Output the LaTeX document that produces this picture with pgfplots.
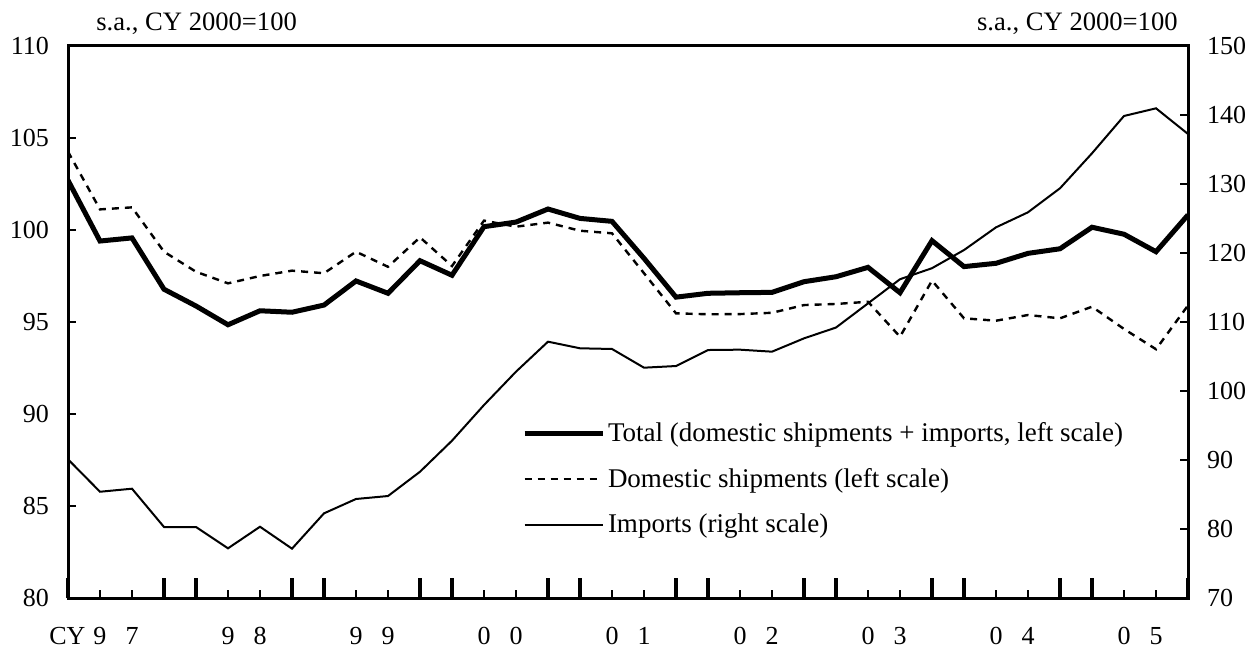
\documentclass[border=0pt]{standalone}
\usepackage{fontspec}
\setmainfont{Liberation Serif}
\usepackage{pgfplots}
\usepackage{pgfplotstable}
\usetikzlibrary{calc}
\pgfplotsset{compat=1.18}

\pgfplotstableread{
i total dom imp
0 102.70 104.26 90.1
1 99.40 101.12 85.4
2 99.57 101.23 85.84
3 96.78 98.82 80.29
4 95.87 97.73 80.29
5 94.85 97.10 77.2
6 95.61 97.50 80.33
7 95.53 97.79 77.15
8 95.92 97.65 82.27
9 97.23 98.82 84.35
10 96.56 98.00 84.78
11 98.33 99.60 88.3
12 97.54 98.04 92.8
13 100.18 100.51 97.97
14 100.43 100.18 102.8
15 101.14 100.40 107.15
16 100.63 99.96 106.19
17 100.47 99.82 106.09
18 98.46 97.65 103.38
19 96.35 95.47 103.62
20 96.56 95.42 105.94
21 96.59 95.43 105.99
22 96.61 95.50 105.7
23 97.19 95.92 107.63
24 97.46 95.98 109.2
25 97.97 96.10 112.7
26 96.59 94.20 116.2
27 99.42 97.25 117.8
28 98.01 95.20 120.43
29 98.19 95.07 123.72
30 98.73 95.38 125.9
31 98.98 95.20 129.38
32 100.15 95.83 134.45
33 99.77 94.62 139.86
34 98.82 93.52 140.97
35 100.82 95.90 137.25
}\datatable

\begin{document}
\begin{tikzpicture}
\pgfplotsset{
  every axis/.append style={
    scale only axis, width=560pt, height=276pt,
    at={(0,0)}, anchor=south west,
    xmin=0, xmax=35,
    axis line style={line width=1.5pt},
    tick align=inside,
    major tick length=4pt,
    tick style={line width=1pt, color=black},
    tick label style={font=\fontsize{13}{15}\selectfont},
    /pgf/number format/assume math mode=true,
  }
}
\begin{axis}[
  ymin=70, ymax=150,
  axis x line=none,
  axis y line*=right,
  ytick={70,80,...,150},
  yticklabel style={xshift=6pt, anchor=west},
]
\addplot[black, line width=1pt] table[x=i, y=imp] {\datatable};
\end{axis}
\begin{axis}[
  name=main,
  ymin=80, ymax=110,
  ytick={80,85,...,110},
  ytick pos=left,
  xtick pos=left,
  yticklabel style={xshift=-6pt, anchor=east},
  xtick={0,...,35},
  xticklabels={,{\makebox[0pt][r]{CY\hspace{4pt}}9},7,,,9,8,,,9,9,,,0,0,,,0,1,,,0,2,,,0,3,,,0,4,,,0,5,},
  xticklabel style={yshift=-11pt},
  extra x ticks={0,3,4,7,8,11,12,15,16,19,20,23,24,27,28,31,32,35},
  extra x tick labels={},
  extra x tick style={major tick length=10pt, tick style={line width=2pt}},
  legend style={draw=none, fill=none, at={(0.405,0.325)}, anchor=north west,
    font=\fontsize{13.5}{15}\selectfont, row sep=9pt, inner sep=0pt,
    nodes={inner sep=1.5pt}},
  legend cell align=left,
  legend image code/.code={\draw[#1] (0pt,0pt) -- (39pt,0pt);},
]
\addplot[black, line width=2.5pt] table[x=i, y=total] {\datatable};
\addlegendentry{Total (domestic shipments + imports, left scale)}
\addplot[black, line width=1.2pt, dash pattern=on 3.5pt off 3pt] table[x=i, y=dom] {\datatable};
\addlegendentry{Domestic shipments (left scale)}
\addlegendimage{black, line width=1pt}
\addlegendentry{Imports (right scale)}
\end{axis}
\node[anchor=base west, inner sep=0pt, font=\fontsize{13.3}{15}\selectfont] at ($(main.north west)+(14pt,7.5pt)$) {s.a., CY 2000=100};
\node[anchor=base east, inner sep=0pt, font=\fontsize{13.3}{15}\selectfont] at ($(main.north east)+(-5pt,7.5pt)$) {s.a., CY 2000=100};
\pgfresetboundingbox
\path (-34pt,-25pt) rectangle (592pt,299pt);
\end{tikzpicture}
\end{document}
